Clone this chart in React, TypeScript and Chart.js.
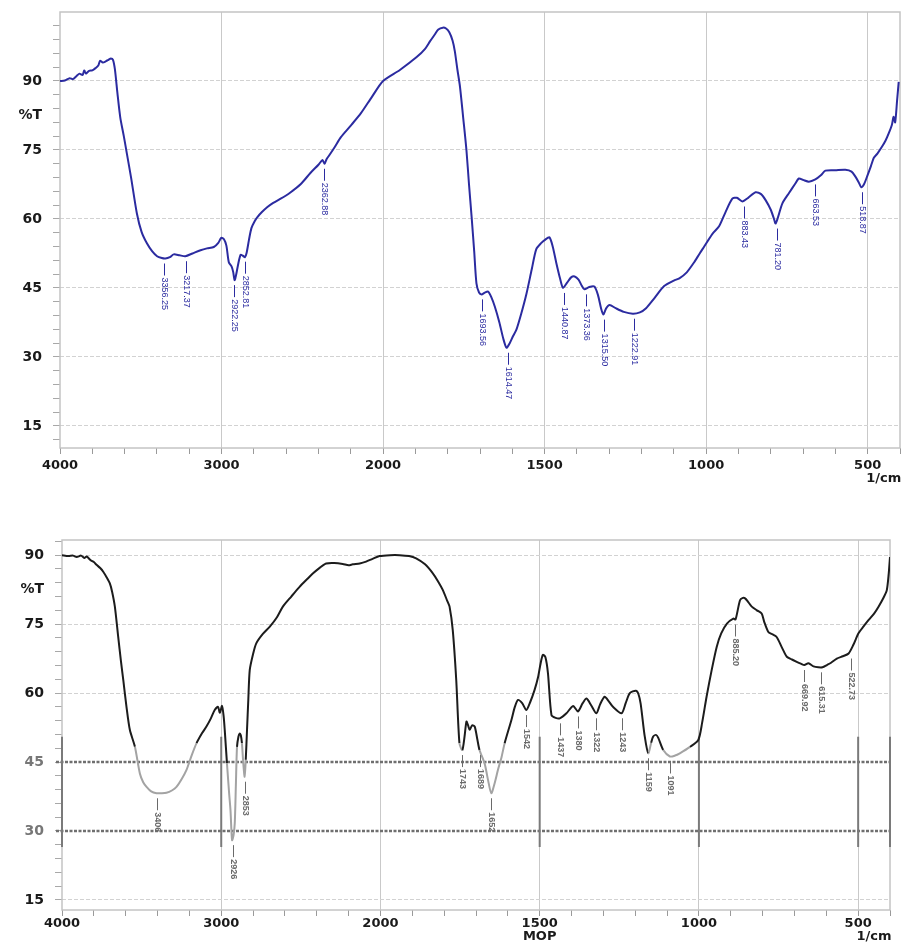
import React, { useEffect, useRef } from 'react';
import { Chart, registerables } from 'chart.js';

Chart.register(...registerables);

// ---------------- DATA ----------------
// Upper spectrum (blue)
const topWavenumbers = [
  4000, 3970, 3940, 3920, 3900, 3880, 3860, 3850, 3840, 3820, 3800, 3780, 3762, 3752, 3735, 3715, 3700, 3685, 3672, 3660,
  3645, 3627, 3605, 3586, 3560, 3524, 3495, 3462, 3430, 3399, 3370, 3348, 3320, 3296, 3260, 3224, 3180, 3130, 3090, 3048,
  3020, 3002, 2985, 2970, 2955, 2938, 2928, 2919, 2910, 2898, 2882, 2868, 2855, 2845, 2830, 2815, 2795, 2778, 2750, 2716,
  2680, 2634, 2580, 2509, 2450, 2400, 2375, 2362, 2350, 2334, 2300, 2261, 2200, 2137, 2070, 2000, 1948, 1896, 1870, 1855,
  1840, 1829, 1815, 1805, 1795, 1785, 1778, 1770, 1762, 1752, 1742, 1734, 1726, 1718, 1711, 1703, 1695, 1685, 1675, 1665,
  1654, 1640, 1628, 1618, 1608, 1598, 1587, 1572, 1556, 1540, 1526, 1510, 1500, 1485, 1475, 1464, 1452, 1443, 1430, 1418,
  1407, 1395, 1385, 1377, 1362, 1346, 1335, 1325, 1318, 1310, 1299, 1280, 1255, 1227, 1205, 1186, 1160, 1130, 1100, 1083,
  1060, 1037, 1020, 1006, 980, 960, 940, 919, 905, 888, 870, 847, 830, 816, 800, 790, 785, 778, 764, 744,
  725, 713, 700, 682, 662, 645, 631, 600, 569, 550, 538, 528, 520, 511, 502, 490, 481, 470, 455, 445,
  435, 425, 420, 415, 409, 404,
];
const topTransmittance = [
  90.0, 90.1, 90.6, 90.4, 91.0, 91.6, 91.3, 92.3, 91.6, 92.2, 92.3, 92.8, 93.4, 94.4, 94.0, 94.3, 94.6, 94.9, 94.6, 92.5,
  87.5, 82.1, 78.0, 74.2, 69.0, 61.2, 57.2, 54.7, 53.0, 51.9, 51.5, 51.4, 51.7, 52.3, 52.1, 51.9, 52.5, 53.2, 53.6, 53.9,
  54.8, 55.9, 55.6, 54.2, 50.6, 49.7, 48.5, 46.7, 47.8, 50.0, 52.2, 52.0, 51.7, 52.6, 55.5, 58.0, 59.5, 60.4, 61.5, 62.6,
  63.5, 64.4, 65.6, 67.6, 70.0, 71.8, 72.8, 72.0, 73.0, 73.8, 75.6, 77.8, 80.3, 83.0, 86.5, 90.0, 92.4, 95.2, 97.0, 98.6,
  100.1, 101.2, 101.6, 101.4, 100.6, 98.8, 96.5, 92.5, 88.8, 82.0, 75.0, 67.5, 60.5, 53.0, 46.0, 44.0, 43.6, 44.0, 44.2, 43.0,
  40.9, 37.5, 34.0, 32.0, 33.0, 34.5, 36.0, 39.5, 43.8, 49.0, 53.4, 54.8, 55.4, 56.0, 54.0, 50.5, 47.0, 45.0, 46.2, 47.3,
  47.5, 46.8, 45.5, 44.7, 45.2, 45.3, 43.5, 40.5, 39.2, 40.5, 41.3, 40.6, 39.8, 39.4, 39.7, 40.6, 42.8, 45.4, 46.6, 47.1,
  48.4, 50.6, 52.5, 54.0, 56.8, 58.4, 61.5, 64.4, 64.6, 63.8, 64.6, 65.8, 65.4, 64.1, 62.0, 60.0, 59.0, 60.3, 63.4, 65.6,
  67.6, 68.8, 68.5, 68.1, 68.6, 69.5, 70.5, 70.6, 70.7, 70.3, 69.2, 68.0, 66.9, 67.6, 69.2, 71.5, 73.3, 74.2, 75.8, 77.0,
  78.6, 80.5, 82.2, 81.0, 85.8, 89.8,
];

// Lower spectrum (black, "MOP")
const bottomWavenumbers = [
  4000, 3960, 3930, 3908, 3880, 3860, 3845, 3820, 3800, 3783, 3760, 3741, 3720, 3699, 3685, 3668, 3647, 3630, 3615, 3595,
  3574, 3542, 3511, 3490, 3469, 3440, 3406, 3375, 3344, 3310, 3281, 3250, 3218, 3185, 3155, 3120, 3093, 3065, 3041, 3020,
  3009, 2995, 2985, 2978, 2964, 2950, 2942, 2932, 2923, 2915, 2908, 2901, 2892, 2884, 2877, 2870, 2862, 2853, 2846, 2838,
  2830, 2821, 2800, 2780, 2740, 2696, 2650, 2613, 2560, 2508, 2460, 2425, 2380, 2341, 2290, 2237, 2200, 2174, 2130, 2090,
  2050, 2006, 1970, 1940, 1910, 1888, 1860, 1835, 1820, 1804, 1790, 1783, 1773, 1762, 1752, 1743, 1736, 1730, 1725, 1720,
  1712, 1704, 1696, 1689, 1673, 1662, 1652, 1641, 1631, 1620, 1610, 1589, 1578, 1568, 1555, 1542, 1530, 1516, 1505, 1497,
  1490, 1482, 1474, 1463, 1450, 1437, 1416, 1395, 1380, 1365, 1353, 1338, 1322, 1310, 1296, 1283, 1270, 1243, 1230, 1217,
  1198, 1190, 1183, 1170, 1159, 1150, 1144, 1135, 1128, 1112, 1091, 1075, 1060, 1028, 1002, 990, 976, 960, 944, 930,
  912, 892, 885, 871, 862, 855, 845, 834, 818, 803, 795, 782, 770, 756, 740, 724, 708, 693, 680, 669,
  656, 640, 625, 612, 598, 585, 567, 548, 530, 515, 499, 483, 467, 450, 436, 420, 410, 404, 400,
];
const bottomTransmittance = [
  90.0, 89.8, 89.9, 89.6, 89.9, 89.4, 89.7, 88.9, 88.5, 87.9, 87.2, 86.4, 85.2, 83.8, 82.0, 78.8, 72.2, 67.0, 62.8, 57.0,
  52.0, 48.3, 42.5, 40.6, 39.6, 38.6, 38.2, 38.2, 38.3, 38.8, 39.6, 41.2, 43.3, 46.5, 49.1, 51.3, 52.7, 54.5, 56.3, 57.0,
  55.7, 57.2, 55.0, 52.0, 44.7, 38.0, 34.6, 28.0, 29.0, 31.7, 40.0, 48.3, 50.5, 51.2, 50.8, 49.1, 45.0, 41.8, 45.5, 52.0,
  58.5, 65.0, 68.5, 70.8, 72.8, 74.4, 76.5, 78.8, 81.0, 83.1, 84.8, 86.0, 87.3, 88.2, 88.3, 88.1, 87.8, 88.0, 88.2, 88.6,
  89.2, 89.8, 90.0, 90.0, 89.8, 89.3, 88.0, 86.0, 84.4, 82.4, 80.0, 78.8, 73.7, 62.8, 49.1, 47.6, 50.5, 53.8, 53.0, 52.0,
  53.0, 52.7, 50.0, 47.6, 44.7, 41.0, 38.2, 40.5, 43.3, 46.0, 49.1, 54.1, 57.0, 58.5, 57.8, 56.3, 58.0, 60.7, 63.5, 66.5,
  68.3, 67.8, 64.3, 55.2, 54.6, 54.5, 55.6, 57.2, 56.0, 57.8, 58.8, 57.3, 55.6, 57.6, 59.2, 58.2, 57.0, 55.6, 57.8, 60.0,
  60.5, 59.8, 57.7, 50.5, 46.9, 49.2, 50.5, 50.9, 50.3, 47.6, 46.2, 46.4, 46.9, 48.3, 49.8, 53.5, 59.2, 65.0, 70.1, 73.0,
  75.1, 76.2, 76.0, 80.2, 80.7, 80.6, 79.8, 78.8, 78.0, 77.3, 75.5, 73.3, 72.8, 72.2, 70.0, 67.9, 67.3, 66.8, 66.4, 66.1,
  66.5, 65.8, 65.6, 65.6, 66.1, 66.6, 67.5, 68.0, 68.6, 70.5, 73.0, 74.5, 75.9, 77.3, 78.8, 80.8, 82.4, 86.0, 89.6,
];

// Peak annotations
const topPeakWavenumbers = [3356.25, 3217.37, 2922.25, 2852.81, 2362.88, 1693.56, 1614.47, 1440.87, 1373.36, 1315.5, 1222.91, 883.43, 781.2, 663.53, 518.87];
const topPeakTransmittance = [51.4, 51.9, 46.7, 51.8, 72.0, 43.6, 32.0, 45.0, 44.7, 39.2, 39.4, 63.8, 59.0, 68.6, 66.9];
const topPeakLabels = ['3356.25', '3217.37', '2922.25', '2852.81', '2362.88', '1693.56', '1614.47', '1440.87', '1373.36', '1315.50', '1222.91', '883.43', '781.20', '663.53', '518.87'];

const bottomPeakWavenumbers = [3406, 2926, 2853, 1743, 1689, 1652, 1542, 1437, 1380, 1322, 1243, 1159, 1091, 885.2, 669.92, 615.31, 522.73];
const bottomPeakTransmittance = [38.2, 28.0, 41.8, 47.6, 47.6, 38.2, 56.3, 54.5, 56.0, 55.6, 55.6, 46.9, 46.2, 76.0, 66.1, 65.6, 68.6];
const bottomPeakLabels = ['3406', '2926', '2853', '1743', '1689', '1652', '1542', '1437', '1380', '1322', '1243', '1159', '1091', '885.20', '669.92', '615.31', '522.73'];

// Axis tick labels
const xTickWavenumbers = [4000, 3000, 2000, 1500, 1000, 500];
const yTickValues = [15, 30, 45, 60, 75, 90];
const yAxisTitle = '%T';
const xUnitLabel = '1/cm';
const bottomSampleName = 'MOP';

// ---------------- helpers ----------------
// FTIR axis: 4000-2000 at half the scale of 2000-400
function toU(wn: number): number {
  return wn >= 2000 ? (4000 - wn) / 1000 : 2 + (2000 - wn) / 500;
}
const X_MAX = toU(400);
const UNIT_POS = toU(450);
const TITLE_POS = 82.5;

const near = (a: number, b: number) => Math.abs(a - b) < 1e-6;

const peakLabelPlugin = {
  id: 'peakLabels',
  afterDatasetsDraw(chart: any, _args: any, opts: any) {
    if (!opts || !opts.labels) return;
    const xs = chart.scales.x;
    const ys = chart.scales.y;
    const ctx = chart.ctx;
    ctx.save();
    ctx.strokeStyle = opts.color;
    ctx.fillStyle = opts.color;
    ctx.lineWidth = 1;
    ctx.font = opts.font;
    (opts.labels as string[]).forEach((label, i) => {
      const px = Math.round(xs.getPixelForValue(toU(opts.wavenumbers[i]))) + 0.5;
      const py = ys.getPixelForValue(opts.transmittance[i]);
      ctx.beginPath();
      ctx.moveTo(px, py + 5);
      ctx.lineTo(px, py + 17);
      ctx.stroke();
      ctx.save();
      ctx.translate(px, py + 19);
      ctx.rotate(Math.PI / 2);
      ctx.textAlign = 'left';
      ctx.textBaseline = 'middle';
      ctx.fillText(label, 0, 0);
      ctx.restore();
    });
    ctx.restore();
  },
};

const framePlugin = {
  id: 'frame',
  beforeDatasetsDraw(chart: any, _args: any, opts: any) {
    const { left, right, top, bottom } = chart.chartArea;
    const ctx = chart.ctx;
    ctx.save();
    ctx.strokeStyle = opts.color || '#c0c0c0';
    ctx.lineWidth = 1.5;
    ctx.strokeRect(left, top, right - left, bottom - top);
    ctx.restore();
  },
};

// scanned-band artefact of the lower figure (darker grid in 30-45 zone)
const scanBandPlugin = {
  id: 'scanBand',
  beforeDatasetsDraw(chart: any, _args: any, opts: any) {
    if (!opts || !opts.enabled) return;
    const xs = chart.scales.x;
    const ys = chart.scales.y;
    const ctx = chart.ctx;
    const { left, right } = chart.chartArea;
    ctx.save();
    ctx.strokeStyle = '#6f6f6f';
    ctx.lineWidth = 2.5;
    ctx.setLineDash([3, 1.5]);
    (opts.lines as number[]).forEach((v) => {
      const y = ys.getPixelForValue(v);
      ctx.beginPath();
      ctx.moveTo(left - 6, y);
      ctx.lineTo(right, y);
      ctx.stroke();
    });
    ctx.setLineDash([]);
    ctx.strokeStyle = '#7a7a7a';
    ctx.lineWidth = 2;
    const y0 = ys.getPixelForValue(opts.from);
    const y1 = ys.getPixelForValue(opts.to);
    (opts.columns as number[]).forEach((u) => {
      const x = xs.getPixelForValue(u);
      ctx.beginPath();
      ctx.moveTo(x, y0);
      ctx.lineTo(x, y1);
      ctx.stroke();
    });
    ctx.restore();
  },
};

interface SpecParams {
  wavenumbers: number[];
  transmittance: number[];
  lineColor: string;
  yMin: number;
  yMax: number;
  yTickFrom: number;
  yTickTo: number;
  leftWidth: number;
  xAxisHeight: number;
  xLabelPadding: number;
  padTop: number;
  padRight: number;
  peaks: { wavenumbers: number[]; transmittance: number[]; labels: string[]; color: string; font: string };
  sampleName?: string;
  band?: boolean;
}

function makeConfig(p: SpecParams): any {
  const points = p.wavenumbers.map((wn, i) => ({ x: toU(wn), y: p.transmittance[i] }));
  const majorU = xTickWavenumbers.map(toU);
  const gridGray = '#c9c9c9';
  const lineSegment = p.band
    ? {
        borderColor: (ctx: any) => (ctx.p0.parsed.y < 49.8 && ctx.p1.parsed.y < 49.8 ? '#a3a3a3' : p.lineColor),
      }
    : undefined;
  return {
    type: 'line',
    data: {
      datasets: [
        {
          data: points,
          borderColor: p.lineColor,
          borderWidth: 2,
          pointRadius: 0,
          fill: false,
          tension: 0.25,
          segment: lineSegment,
        },
      ],
    },
    options: {
      animation: false,
      responsive: false,
      maintainAspectRatio: false,
      parsing: false,
      layout: { padding: { top: p.padTop, right: p.padRight, left: 0, bottom: 0 } },
      plugins: {
        legend: { display: false },
        tooltip: { enabled: false },
        title: { display: false },
        peakLabels: p.peaks,
        frame: { color: '#c4c4c4' },
        scanBand: { enabled: !!p.band, lines: [45, 30], from: 50.5, to: 26.5, columns: [0, 1, 3, 4, 5, X_MAX] },
      },
      scales: {
        x: {
          type: 'linear',
          min: 0,
          max: X_MAX,
          afterBuildTicks: (scale: any) => {
            const vals: number[] = [];
            for (let i = 0; i <= 26; i++) vals.push(Math.round(i * 20) / 100);
            vals.push(UNIT_POS);
            vals.sort((a, b) => a - b);
            scale.ticks = vals.map((v) => ({ value: v }));
          },
          afterFit: (scale: any) => {
            scale.height = p.xAxisHeight;
            scale.paddingLeft = 0;
            scale.paddingRight = 0;
            scale.paddingTop = 0;
            scale.paddingBottom = 0;
          },
          ticks: {
            autoSkip: false,
            maxRotation: 0,
            minRotation: 0,
            padding: p.xLabelPadding,
            color: '#1a1a1a',
            font: { family: 'DejaVu Sans', size: 13, weight: 'bold', lineHeight: '13px' },
            callback: (value: number) => {
              if (near(value, UNIT_POS)) return ['', xUnitLabel];
              const idx = majorU.findIndex((u) => near(u, value));
              if (idx < 0) return '';
              const lbl = String(xTickWavenumbers[idx]);
              if (p.sampleName && xTickWavenumbers[idx] === 1500) return [lbl, p.sampleName];
              return lbl;
            },
          },
          grid: {
            lineWidth: 1,
            tickLength: 6,
            color: (ctx: any) => {
              const v = ctx.tick ? ctx.tick.value : -1;
              return majorU.some((u) => near(u, v)) && v > 0 ? gridGray : 'rgba(0,0,0,0)';
            },
            tickColor: (ctx: any) => {
              const v = ctx.tick ? ctx.tick.value : -1;
              return near(v, UNIT_POS) ? 'rgba(0,0,0,0)' : '#9a9a9a';
            },
          },
          border: { display: false },
        },
        y: {
          type: 'linear',
          min: p.yMin,
          max: p.yMax,
          afterBuildTicks: (scale: any) => {
            const vals: number[] = [];
            for (let v = p.yTickFrom; v <= p.yTickTo; v += 3) vals.push(v);
            vals.push(TITLE_POS);
            vals.sort((a, b) => a - b);
            scale.ticks = vals.map((v) => ({ value: v }));
          },
          afterFit: (scale: any) => {
            scale.width = p.leftWidth;
            scale.paddingLeft = 0;
            scale.paddingRight = 0;
            scale.paddingTop = 0;
            scale.paddingBottom = 0;
          },
          ticks: {
            autoSkip: false,
            padding: 11,
            color: (ctx: any) => {
              const v = ctx.tick ? ctx.tick.value : 0;
              return p.band && (v === 45 || v === 30) ? '#777777' : '#1a1a1a';
            },
            font: { family: 'DejaVu Sans', size: 14, weight: 'bold' },
            callback: (value: number) => {
              if (near(value, TITLE_POS)) return yAxisTitle;
              return yTickValues.includes(value) ? String(value) : '';
            },
          },
          grid: {
            lineWidth: 1,
            tickLength: 7,
            color: (ctx: any) => {
              const v = ctx.tick ? ctx.tick.value : 0;
              if (!yTickValues.includes(v)) return 'rgba(0,0,0,0)';
              if (p.band && (v === 45 || v === 30)) return 'rgba(0,0,0,0)';
              return '#d2d2d2';
            },
            tickColor: (ctx: any) => {
              const v = ctx.tick ? ctx.tick.value : 0;
              return near(v, TITLE_POS) ? 'rgba(0,0,0,0)' : '#a8a8a8';
            },
          },
          border: { display: false, dash: [4, 2] },
        },
      },
    },
    plugins: [framePlugin, scanBandPlugin, peakLabelPlugin],
  };
}

export default function App() {
  const topRef = useRef<HTMLCanvasElement | null>(null);
  const bottomRef = useRef<HTMLCanvasElement | null>(null);

  useEffect(() => {
    if (!topRef.current || !bottomRef.current) return;
    const top = new Chart(
      topRef.current,
      makeConfig({
        wavenumbers: topWavenumbers,
        transmittance: topTransmittance,
        lineColor: '#2b2ba0',
        yMin: 10.2,
        yMax: 105,
        yTickFrom: 12,
        yTickTo: 102,
        leftWidth: 60,
        xAxisHeight: 52,
        xLabelPadding: 5,
        padTop: 12,
        padRight: 1,
        peaks: {
          wavenumbers: topPeakWavenumbers,
          transmittance: topPeakTransmittance,
          labels: topPeakLabels,
          color: '#2b2ba0',
          font: '9px "Liberation Sans Narrow", "Liberation Sans", Arial, sans-serif',
        },
      })
    );
    const bottom = new Chart(
      bottomRef.current,
      makeConfig({
        wavenumbers: bottomWavenumbers,
        transmittance: bottomTransmittance,
        lineColor: '#1c1c1c',
        yMin: 12.8,
        yMax: 93.3,
        yTickFrom: 15,
        yTickTo: 93,
        leftWidth: 62,
        xAxisHeight: 32,
        xLabelPadding: 1,
        padTop: 40,
        padRight: 11,
        sampleName: bottomSampleName,
        band: true,
        peaks: {
          wavenumbers: bottomPeakWavenumbers,
          transmittance: bottomPeakTransmittance,
          labels: bottomPeakLabels,
          color: '#6a6a6a',
          font: 'bold 9px "Liberation Sans", Arial, sans-serif',
        },
      })
    );
    return () => {
      top.destroy();
      bottom.destroy();
    };
  }, []);

  return (
    <div style={{ position: 'absolute', left: 0, top: 0, width: 901, height: 942, background: '#fff' }}>
      <canvas ref={topRef} width={901} height={500} style={{ position: 'absolute', left: 0, top: 0, width: 901, height: 500 }} />
      <canvas ref={bottomRef} width={901} height={442} style={{ position: 'absolute', left: 0, top: 500, width: 901, height: 442 }} />
    </div>
  );
}
